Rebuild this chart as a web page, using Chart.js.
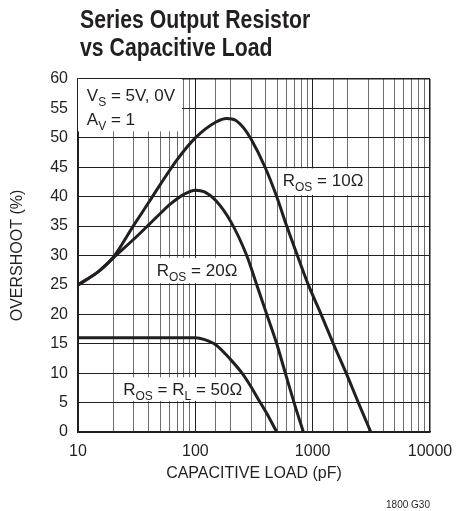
<!DOCTYPE html>
<html>
<head>
<meta charset="utf-8">
<script src="https://cdn.jsdelivr.net/npm/chart.js@4.4.1/dist/chart.umd.min.js"></script>
<style>
  html, body { margin: 0; padding: 0; background: #fff; }
  #wrap { position: relative; width: 468px; height: 511px; }
  #chart { position: absolute; left: 0; top: 0; }
  .title {
    position: absolute; left: 80px; top: 5px;
    font: bold 25px/28px "Liberation Sans", Arial, sans-serif;
    color: #231f20; white-space: nowrap;
    transform: scaleX(0.85); transform-origin: 0 0;
  }
  .note {
    position: absolute; right: 38px; top: 499px;
    font: 10px "Liberation Sans", sans-serif; color: #231f20;
  }
</style>
</head>
<body>
<div id="wrap">
  <canvas id="chart" width="468" height="511"></canvas>
  <div class="title">Series Output Resistor<br>vs Capacitive Load</div>
  <div class="note">1800 G30</div>
</div>
<script>
// values (x = pF, y = %)
const capR10  = [10, 15, 20, 30, 40, 50, 70, 100, 150, 185, 220, 260, 300, 393, 494, 601, 741, 919, 1180, 1500, 1930, 2450, 3130];
const overR10 = [25, 27.3, 29.7, 35.2, 39, 42, 46.3, 50, 52.7, 53.3, 53, 51.6, 49.7, 45, 40, 35, 30, 25, 20, 15, 10, 5, 0];

const capR20  = [10, 15, 20, 30, 40, 50, 60, 80, 100, 120, 150, 200, 274, 334, 406, 494, 585, 694, 833];
const overR20 = [25, 27.3, 29.6, 32.8, 35.2, 37.1, 38.6, 40.4, 41.1, 40.8, 39.3, 35.8, 30, 25, 20, 15, 10, 5, 0];

const capR50  = [10, 50, 100, 120, 150, 200, 250, 300, 350, 400, 494];
const overR50 = [16, 16, 16, 15.7, 14.8, 12.3, 10, 7.6, 5.3, 3.4, 0];

const xMin = 10, xMax = 10000;
const yMin = 0, yMax = 60, yStep = 5;

const ink = '#231f20';
const minorGrid = '#6d6e71';

// in-plot labels, anchored in data units; [text, isSubscript]
const notes = [
    { box: [10, 60, 76.9, 51.1], lines: [
        { x: 11.9, y: 56.25, parts: [['V'], ['S', true], [' = 5V, 0V']] },
        { x: 11.9, y: 52.15, parts: [['A'], ['V', true], [' = 1']] }
    ] },
    { box: [516, 44.8, 2904, 40.3], lines: [
        { x: 556, y: 41.8, parts: [['R'], ['OS', true], [' = 10\u03A9']] }
    ] },
    { box: [43.6, 29.6, 250, 25.3], lines: [
        { x: 46.9, y: 26.5, parts: [['R'], ['OS', true], [' = 20\u03A9']] }
    ] },
    { box: [22.8, 9.3, 265, 5.3], lines: [
        { x: 24.3, y: 6.3, parts: [['R'], ['OS', true], [' = R'], ['L', true], [' = 50\u03A9']] }
    ] }
];

function toPoints(xs, ys) {
    return xs.map((x, i) => ({ x: x, y: ys[i] }));
}

function isDecade(v) {
    const l = Math.log10(v);
    return Math.abs(l - Math.round(l)) < 1e-9;
}

const labelPlugin = {
    id: 'labelPlugin',
    beforeDatasetsDraw(chart) {
        const ctx = chart.ctx;
        const xs = chart.scales.x, ys = chart.scales.y;
        ctx.save();
        notes.forEach(n => {
            const x1 = xs.getPixelForValue(n.box[0]);
            const y1 = ys.getPixelForValue(n.box[1]);
            const x2 = xs.getPixelForValue(n.box[2]);
            const y2 = ys.getPixelForValue(n.box[3]);
            ctx.fillStyle = '#fff';
            ctx.fillRect(x1, y1, x2 - x1, y2 - y1);
            ctx.fillStyle = ink;
            ctx.textBaseline = 'alphabetic';
            n.lines.forEach(line => {
                let px = xs.getPixelForValue(line.x);
                const py = ys.getPixelForValue(line.y);
                line.parts.forEach(([text, sub]) => {
                    ctx.font = sub ? '12px "Liberation Sans"' : '17px "Liberation Sans"';
                    ctx.fillText(text, px, sub ? py + 5 : py);
                    px += ctx.measureText(text).width;
                });
            });
        });
        ctx.restore();
    }
};

const curveStyle = {
    borderColor: ink,
    borderWidth: 3,
    pointRadius: 0,
    fill: false,
    cubicInterpolationMode: 'monotone'
};

Chart.defaults.font.family = '"Liberation Sans", Arial, sans-serif';
Chart.defaults.color = ink;

new Chart(document.getElementById('chart'), {
    type: 'line',
    data: {
        datasets: [
            { label: 'ROS = 10', data: toPoints(capR10, overR10), ...curveStyle },
            { label: 'ROS = 20', data: toPoints(capR20, overR20), ...curveStyle },
            { label: 'ROS = RL = 50', data: toPoints(capR50, overR50), ...curveStyle }
        ]
    },
    options: {
        responsive: false,
        animation: false,
        layout: { padding: { left: 0, top: 79, right: 38, bottom: 19 } },
        plugins: {
            legend: { display: false },
            tooltip: { enabled: false }
        },
        scales: {
            x: {
                type: 'logarithmic',
                min: xMin,
                max: xMax,
                afterFit: s => { s.height = 60; },
                grid: {
                    drawTicks: false,
                    color: c => isDecade(c.tick.value) ? ink : minorGrid,
                    lineWidth: c => c.tick.value === xMax ? 1.5 : 1
                },
                border: { color: ink, width: 1.5 },
                ticks: {
                    autoSkip: false,
                    maxRotation: 0,
                    padding: 10,
                    font: { size: 16 },
                    callback: v => isDecade(v) ? String(v) : ''
                },
                title: {
                    display: true,
                    text: 'CAPACITIVE LOAD (pF)',
                    font: { size: 16 },
                    padding: 9
                }
            },
            y: {
                min: yMin,
                max: yMax,
                afterFit: s => { s.width = 78; },
                grid: {
                    drawTicks: false,
                    color: ink,
                    lineWidth: c => c.tick.value === yMax ? 1.5 : 1
                },
                border: { color: ink, width: 1.5 },
                ticks: {
                    stepSize: yStep,
                    padding: 10,
                    font: { size: 16 }
                },
                title: {
                    display: true,
                    text: 'OVERSHOOT (%)',
                    font: { size: 16 },
                    padding: 8
                }
            }
        }
    },
    plugins: [labelPlugin]
});
</script>
</body>
</html>
